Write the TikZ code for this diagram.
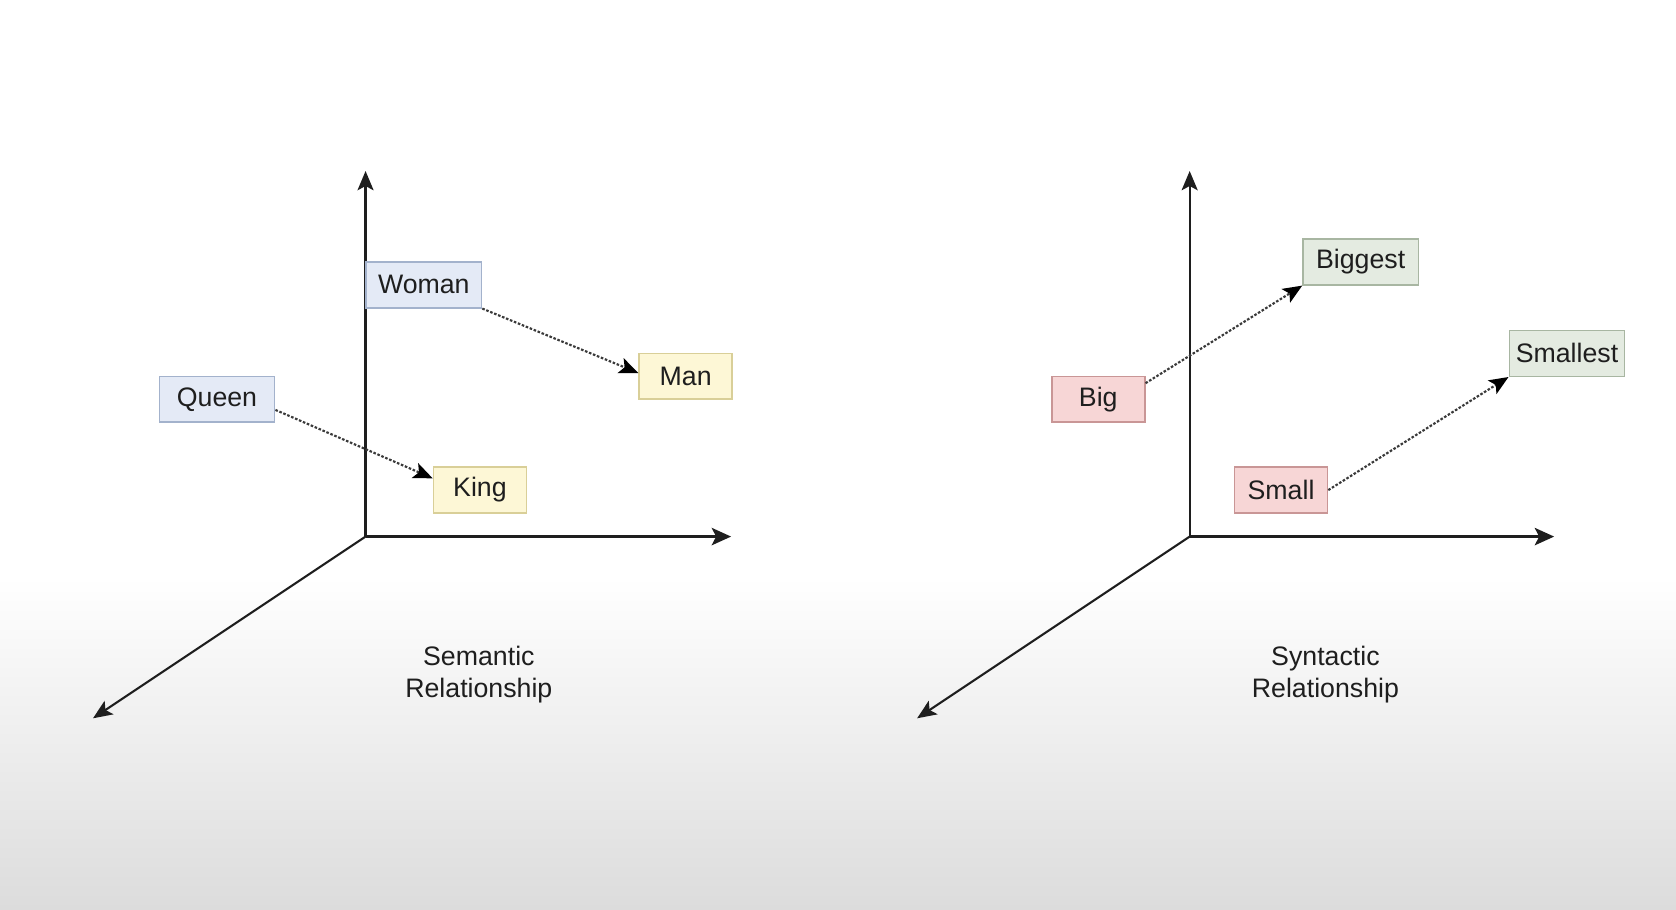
\documentclass[tikz,border=0pt]{standalone}
\usepackage{fontspec}
\setmainfont{Liberation Sans}
\usetikzlibrary{arrows.meta,calc}
\definecolor{txt}{HTML}{1E1E1E}
\definecolor{axis}{HTML}{1E1E1E}
\definecolor{conn}{HTML}{3A3A3A}
\definecolor{bluef}{HTML}{E4EAF6}
\definecolor{blued}{HTML}{A3B2CC}
\definecolor{yelf}{HTML}{FDF7D6}
\definecolor{yeld}{HTML}{D9CF98}
\definecolor{pinkf}{HTML}{F7D6D6}
\definecolor{pinkd}{HTML}{C99696}
\definecolor{greenf}{HTML}{E4EBE1}
\definecolor{greend}{HTML}{A8B6A2}
\definecolor{bgbot}{HTML}{DCDCDC}
\tikzset{
  word/.style={draw, line width=0.7pt, inner sep=0pt, minimum height=21.5pt,
    font=\fontsize{12.5}{15}\selectfont, text=txt, anchor=center},
  wide/.style={minimum width=54pt},
  narrow/.style={minimum width=43.5pt},
  bluebox/.style={word, fill=bluef, draw=blued},
  yelbox/.style={word, fill=yelf, draw=yeld},
  pinkbox/.style={word, fill=pinkf, draw=pinkd},
  greenbox/.style={word, fill=greenf, draw=greend},
  axisline/.style={draw=axis, line width=1pt, -{Stealth[length=9pt,width=7.5pt,inset=2pt]}},
  xaxisline/.style={draw=axis, line width=1.7pt, -{Stealth[length=9pt,width=8pt,inset=2pt]}},
  connector/.style={draw=conn, line width=1pt, dash pattern=on 1.2pt off 0.8pt,
    -{Stealth[length=9pt,width=7.5pt,inset=2pt,color=black,fill=black]}},
  caption/.style={align=center, font=\fontsize{12.5}{15}\selectfont, text=txt}
}
\begin{document}
\begin{tikzpicture}[x=0.5pt,y=-0.5pt]
\useasboundingbox (0,0) rectangle (1568,851);
\fill[white] (0,0) rectangle (1568,541);
\shade[top color=white, bottom color=bgbot] (0,540) rectangle (1568,851);

% left axes
\coordinate (o1) at (342,502);
\coordinate (y1) at (342,160);
\coordinate (x1) at (684,502);
\coordinate (z1) at (87,672);
\draw[axisline] (o1) -- (y1);
\draw[xaxisline] (o1) -- (x1);
\draw[axisline] (o1) -- (z1);

% right axes
\coordinate (o2) at (1113,502);
\coordinate (y2) at (1113,160);
\coordinate (x2) at (1454,502);
\coordinate (z2) at (858,672);
\draw[axisline] (o2) -- (y2);
\draw[xaxisline] (o2) -- (x2);
\draw[axisline] (o2) -- (z2);

% semantic boxes
\node[bluebox, wide] (woman) at (396.5,266.5) {Woman};
\node[yelbox, narrow] (man) at (641.5,352) {Man};
\node[bluebox, wide] (queen) at (203,373.5) {Queen};
\node[yelbox, narrow] (king) at (449,458.5) {King};

% syntactic boxes
\node[pinkbox, narrow] (big) at (1027.5,373.5) {Big};
\node[pinkbox, narrow] (small) at (1198.5,458.5) {Small};
\node[greenbox, wide] (biggest) at (1273,245) {Biggest};
\node[greenbox, wide] (smallest) at (1466,330.5) {Smallest};

% connectors
\draw[connector] (woman.south east) -- ($(man.west)+(0,-3)$);
\draw[connector] ($(queen.east)+(0,10)$) -- ($(king.west)+(0,-11)$);
\draw[connector] ($(big.east)+(0,-15)$) -- (biggest.south west);
\draw[connector] (small.east) -- (smallest.south west);

% captions
\node[caption] (cap1) at (448,631) {Semantic\\Relationship};
\node[caption] (cap2) at (1240,631) {Syntactic\\Relationship};
\end{tikzpicture}
\end{document}
